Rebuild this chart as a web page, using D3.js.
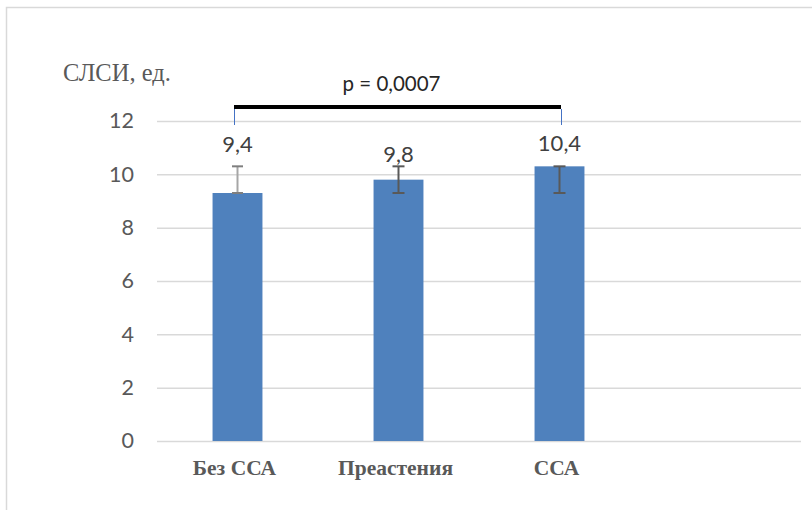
<!DOCTYPE html>
<html>
<head>
<meta charset="utf-8">
<script src="https://cdn.jsdelivr.net/npm/d3@7/dist/d3.min.js"></script>
<style>
  html, body { margin: 0; padding: 0; background: #fff; }
  svg { display: block; }
</style>
</head>
<body>
<svg id="chart" width="812" height="510"></svg>
<script>
// ---- data ----
const categories = ["Без ССА", "Преастения", "ССА", ""];
const barValues = [9.3, 9.8, 10.3];
const errLow = [9.3, 9.3, 9.3];
const errHigh = [10.3, 10.3, 10.3];
const valueLabels = ["9,4", "9,8", "10,4"];
const yTicks = [0, 2, 4, 6, 8, 10, 12];
const yTitle = "СЛСИ, ед.";
const pText = "p = 0,0007";

// ---- layout ----
const W = 812, H = 510;
const plot = { left: 157, right: 801, top: 121, bottom: 441 };
const labelRaise = [14.5, 4.8, 15.5];
const sans = "Lato, 'Open Sans', sans-serif";
const serif = "'Liberation Serif', 'Times New Roman', serif";

const svg = d3.select("#chart");
svg.append("rect").attr("width", W).attr("height", H).attr("fill", "#fff");

// outer frame (partially visible)
svg.append("path")
  .attr("d", `M6.5,${H} L6.5,7.5 L${W},7.5`)
  .attr("fill", "none").attr("stroke", "#d9d9d9").attr("stroke-width", 1.5);

const x = d3.scaleBand().domain(categories)
  .range([plot.left, plot.right]).paddingInner(0.69).paddingOuter(0.345);
const y = d3.scaleLinear().domain([0, 12]).range([plot.bottom, plot.top]);

// y axis with gridlines
const yAxis = svg.append("g")
  .attr("transform", `translate(${plot.left},0)`)
  .call(d3.axisLeft(y).tickValues(yTicks).tickSize(-(plot.right - plot.left)).tickPadding(23).tickFormat(d3.format("d")));
yAxis.select(".domain").remove();
yAxis.selectAll(".tick line").attr("stroke", "#d9d9d9").attr("stroke-width", 1.5);
yAxis.selectAll(".tick text").attr("fill", "#595959")
  .style("font-family", sans).style("font-size", "21.5px");

// bars
const cats3 = categories.slice(0, 3);
svg.append("g").selectAll("rect").data(barValues).join("rect")
  .attr("x", (d, i) => x(cats3[i]))
  .attr("y", d => y(d))
  .attr("width", x.bandwidth())
  .attr("height", d => y(0) - y(d))
  .attr("fill", "#4F81BD");

// error bars
const cx = i => x(cats3[i]) + x.bandwidth() / 2;
const errG = svg.append("g");
barValues.forEach((v, i) => {
  const stemColor = i === 0 ? "#a6a6a6" : "#595959";
  const capColor = i === 0 ? "#7f7f7f" : "#595959";
  const capW = i === 0 ? 5.5 : 6;
  errG.append("line").attr("x1", cx(i)).attr("x2", cx(i))
    .attr("y1", y(errLow[i])).attr("y2", y(errHigh[i]))
    .attr("stroke", stemColor).attr("stroke-width", 2);
  [errLow[i], errHigh[i]].forEach(e => {
    errG.append("line").attr("x1", cx(i) - capW).attr("x2", cx(i) + capW)
      .attr("y1", y(e)).attr("y2", y(e))
      .attr("stroke", capColor).attr("stroke-width", 2);
  });
});

// value labels
svg.append("g").selectAll("text").data(valueLabels).join("text")
  .attr("x", (d, i) => cx(i))
  .attr("y", (d, i) => y(errHigh[i]) - labelRaise[i])
  .attr("text-anchor", "middle")
  .attr("fill", "#404040")
  .style("font-family", sans).style("font-size", "22px")
  .text(d => d);

// category labels
svg.append("g").selectAll("text").data(categories).join("text")
  .attr("x", d => x(d) + x.bandwidth() / 2 - 3)
  .attr("y", 475)
  .attr("text-anchor", "middle")
  .attr("fill", "#595959")
  .style("font-family", serif).style("font-weight", "bold").style("font-size", "21.5px")
  .text(d => d);

// y title
svg.append("text").attr("x", 63).attr("y", 81)
  .attr("fill", "#595959")
  .style("font-family", serif).style("font-size", "24.5px")
  .text(yTitle);

// significance bracket
const bx1 = cx(0) - 3.5, bx2 = cx(2) + 1.5, by = 107;
svg.append("line").attr("x1", bx1).attr("x2", bx2).attr("y1", by).attr("y2", by)
  .attr("stroke", "#000").attr("stroke-width", 4);
[bx1, bx2].forEach(bx => {
  svg.append("line").attr("x1", bx + 0.5).attr("x2", bx + 0.5).attr("y1", by + 2).attr("y2", 125)
    .attr("stroke", "#4472C4").attr("stroke-width", 1);
});
svg.append("text").attr("x", (bx1 + bx2) / 2 - 6).attr("y", 90.5)
  .attr("text-anchor", "middle").attr("fill", "#262626")
  .style("font-family", sans).style("font-size", "20.5px")
  .text(pText);
</script>
</body>
</html>
